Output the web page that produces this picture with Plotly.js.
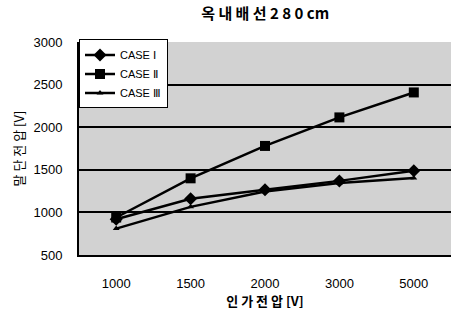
<!DOCTYPE html>
<html>
<head>
<meta charset="utf-8">
<script src="https://cdn.plot.ly/plotly-3.0.1.min.js"></script>
<style>html,body{margin:0;padding:0;background:#fff;}#chart{width:451px;height:310px;}</style>
</head>
<body>
<div id="chart"></div>
<script>
const categories = ['1000', '1500', '2000', '3000', '5000'];
const caseI = [920, 1160, 1265, 1370, 1488];
const caseII = [940, 1400, 1780, 2115, 2408];
const caseIII = [810, 1065, 1245, 1345, 1405];
const seriesNames = ['CASE Ⅰ', 'CASE Ⅱ', 'CASE Ⅲ'];
const yTicks = [500, 1000, 1500, 2000, 2500, 3000];

const lineStyle = {color: '#000', width: 2.5};
const traces = [
  {x: categories, y: caseI, name: seriesNames[0], type: 'scatter', mode: 'lines+markers',
   line: lineStyle, marker: {symbol: 'diamond', size: 10, color: '#000'}},
  {x: categories, y: caseII, name: seriesNames[1], type: 'scatter', mode: 'lines+markers',
   line: lineStyle, marker: {symbol: 'square', size: 10, color: '#000'}},
  {x: categories, y: caseIII, name: seriesNames[2], type: 'scatter', mode: 'lines+markers',
   line: lineStyle, marker: {symbol: 'triangle-up', size: 6, color: '#000'}}
];

const layout = {
  width: 451, height: 310,
  margin: {l: 79, r: 0, t: 42, b: 55},
  paper_bgcolor: '#fff',
  plot_bgcolor: '#d2d2d2',
  showlegend: true,
  title: {text: '<b>옥 내 배 선 2 8 0 cm</b>', x: 0.588, xanchor: 'center', y: 0.955, yanchor: 'middle',
          font: {family: 'Noto Sans CJK KR', size: 15, color: '#000'}},
  xaxis: {type: 'category', range: [-0.5, 4.5], tickvals: categories, ticktext: categories,
          showgrid: false, zeroline: false, showline: true, linecolor: '#000', linewidth: 2,
          ticks: 'outside', ticklen: 15, tickcolor: 'rgba(0,0,0,0)',
          tickfont: {family: 'Liberation Sans', size: 13, color: '#000'},
          title: {text: '<b>인 가 전 압 [V]</b>', standoff: 4, font: {family: 'Noto Sans CJK KR', size: 13, color: '#000'}}},
  yaxis: {range: [500, 3000], tickvals: yTicks, ticktext: yTicks.map(String),
          showgrid: true, gridcolor: '#000', gridwidth: 2, zeroline: false,
          showline: true, linecolor: '#000', linewidth: 2,
          ticks: 'outside', ticklen: 12, tickcolor: 'rgba(0,0,0,0)',
          tickfont: {family: 'Liberation Sans', size: 13, color: '#000'},
          title: {text: '말 단 전 압 [V]', standoff: 6, font: {family: 'Noto Sans CJK KR', size: 13, color: '#000'}}},
  legend: {x: 0, y: 1.012, xanchor: 'left', yanchor: 'top', bgcolor: '#fff', bordercolor: '#000', borderwidth: 1,
           font: {family: 'Liberation Sans', size: 11, color: '#000'}, tracegroupgap: 0, itemwidth: 30}
};

Plotly.newPlot('chart', traces, layout, {displayModeBar: false, staticPlot: true});
</script>
</body>
</html>
